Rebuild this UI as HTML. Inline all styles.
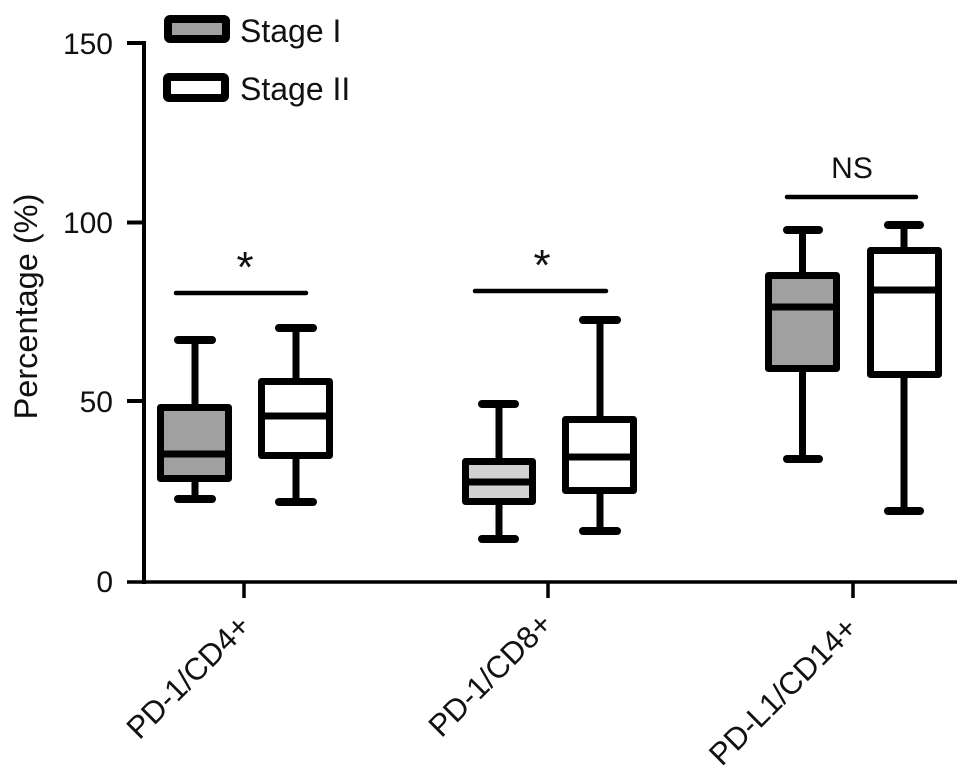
<!DOCTYPE html>
<html><head><meta charset="utf-8"><style>
html,body{margin:0;padding:0;background:#fff;}
svg{display:block;}
text{font-family:"Liberation Sans",Arial,sans-serif;fill:#111;}
</style></head><body>
<svg width="973" height="780" viewBox="0 0 973 780" xmlns="http://www.w3.org/2000/svg">
<rect width="973" height="780" fill="#fff"/>
<!-- axes -->
<g stroke="#000" fill="none">
<line x1="144" y1="41" x2="144" y2="584" stroke-width="4"/>
<line x1="127" y1="43" x2="144" y2="43" stroke-width="4"/>
<line x1="127" y1="222.5" x2="144" y2="222.5" stroke-width="4"/>
<line x1="127" y1="401" x2="144" y2="401" stroke-width="4"/>
<line x1="127" y1="582" x2="957" y2="582" stroke-width="3.5"/>
<line x1="244" y1="582" x2="244" y2="598" stroke-width="3.5"/>
<line x1="548" y1="582" x2="548" y2="598" stroke-width="3.5"/>
<line x1="853" y1="582" x2="853" y2="598" stroke-width="3.5"/>
</g>
<!-- tick labels -->
<g font-size="30" text-anchor="end">
<text x="113" y="54">150</text>
<text x="113" y="233">100</text>
<text x="113" y="412">50</text>
<text x="113" y="592">0</text>
</g>
<text transform="translate(37,306.5) rotate(-90)" font-size="32.5" text-anchor="middle">Percentage (%)</text>
<!-- x labels -->
<g font-size="31" text-anchor="end">
<text transform="translate(252,628) rotate(-45)">PD-1/CD4+</text>
<text transform="translate(554,626) rotate(-45)">PD-1/CD8+</text>
<text transform="translate(859,630) rotate(-45)">PD-L1/CD14+</text>
</g>
<!-- legend -->
<rect x="168" y="19" width="58" height="20" rx="2" fill="#a0a0a0" stroke="#000" stroke-width="8"/>
<rect x="167" y="77" width="58" height="21" rx="2" fill="#fff" stroke="#000" stroke-width="8"/>
<text x="240" y="42" font-size="32">Stage I</text>
<text x="240" y="100" font-size="32">Stage II</text>
<!-- significance -->
<g stroke="#000" stroke-width="4.5" stroke-linecap="round">
<line x1="176" y1="293" x2="306" y2="293"/>
<line x1="475" y1="291" x2="606" y2="291"/>
<line x1="787" y1="197" x2="916" y2="197"/>
</g>
<text x="245" y="282" font-size="44" text-anchor="middle">*</text>
<text x="542" y="280" font-size="44" text-anchor="middle">*</text>
<text x="852" y="178" font-size="30" text-anchor="middle">NS</text>
<!-- boxes -->
<g stroke="#000" stroke-linecap="round" stroke-linejoin="round">
<!-- Box1 -->
<line x1="195" y1="340" x2="195" y2="499" stroke-width="7"/>
<line x1="178" y1="340" x2="212" y2="340" stroke-width="8"/>
<line x1="178" y1="499" x2="212" y2="499" stroke-width="8"/>
<rect x="160.5" y="407.5" width="68" height="71" fill="#a0a0a0" stroke-width="7"/>
<line x1="160.5" y1="454" x2="228.5" y2="454" stroke-width="7"/>
<!-- Box2 -->
<line x1="296" y1="328" x2="296" y2="502" stroke-width="7"/>
<line x1="279" y1="328" x2="313" y2="328" stroke-width="8"/>
<line x1="279" y1="502" x2="313" y2="502" stroke-width="8"/>
<rect x="261.5" y="381.5" width="68" height="74" fill="#fff" stroke-width="7"/>
<line x1="261.5" y1="416" x2="329.5" y2="416" stroke-width="7"/>
<!-- Box3 -->
<line x1="499" y1="404" x2="499" y2="539" stroke-width="7"/>
<line x1="482" y1="404" x2="515" y2="404" stroke-width="8"/>
<line x1="482" y1="539" x2="515" y2="539" stroke-width="8"/>
<rect x="465.5" y="461.5" width="67" height="40" fill="#d2d2d2" stroke-width="7"/>
<line x1="465.5" y1="482" x2="532.5" y2="482" stroke-width="7"/>
<!-- Box4 -->
<line x1="600" y1="320" x2="600" y2="531" stroke-width="7"/>
<line x1="583" y1="320" x2="617" y2="320" stroke-width="8"/>
<line x1="583" y1="531" x2="617" y2="531" stroke-width="8"/>
<rect x="565.5" y="419.5" width="68" height="71" fill="#fff" stroke-width="7"/>
<line x1="565.5" y1="457" x2="633.5" y2="457" stroke-width="7"/>
<!-- Box5 -->
<line x1="802.5" y1="230" x2="802.5" y2="459" stroke-width="7"/>
<line x1="787" y1="230" x2="819" y2="230" stroke-width="8"/>
<line x1="787" y1="459" x2="819" y2="459" stroke-width="8"/>
<rect x="768.5" y="275.5" width="68" height="93" fill="#a0a0a0" stroke-width="7"/>
<line x1="768.5" y1="307" x2="836.5" y2="307" stroke-width="7"/>
<!-- Box6 -->
<line x1="904" y1="225" x2="904" y2="511" stroke-width="7"/>
<line x1="888" y1="225" x2="920" y2="225" stroke-width="8"/>
<line x1="888" y1="511" x2="920" y2="511" stroke-width="8"/>
<rect x="870.5" y="250.5" width="68" height="124" fill="#fff" stroke-width="7"/>
<line x1="870.5" y1="290" x2="938.5" y2="290" stroke-width="7"/>
</g>
</svg>
</body></html>
